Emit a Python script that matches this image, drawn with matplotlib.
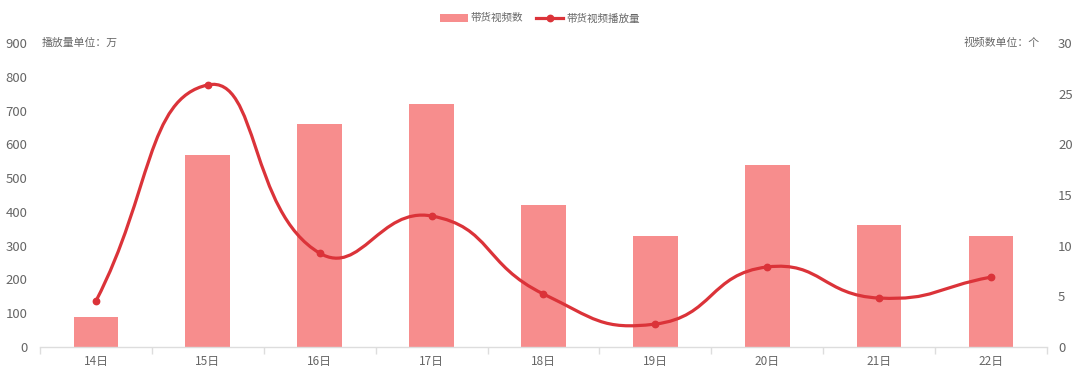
import numpy as np
import matplotlib.pyplot as plt
from matplotlib.path import Path
from matplotlib.patches import PathPatch
from matplotlib.lines import Line2D
from matplotlib.patches import Patch

plt.rcParams['font.family'] = ['Noto Sans CJK SC', 'DejaVu Sans']

# 数据
days = ['14日', '15日', '16日', '17日', '18日', '19日', '20日', '21日', '22日']
video_count = [3, 19, 22, 24, 14, 11, 18, 12, 11]          # 带货视频数（个）
play_volume = [136, 776, 278, 388, 157, 68, 237, 145, 207]  # 带货视频播放量（万）

bar_color = '#F78D8D'
line_color = '#DB3339'
text_color = '#666666'

fig = plt.figure(figsize=(10.8, 3.81), dpi=100)
ax = fig.add_axes([0.037, 0.0892, 0.9324, 0.7978])
ax2 = ax.twinx()

x = np.arange(len(days))

# 柱状图（右轴）
ax2.bar(x, video_count, width=0.4, color=bar_color, zorder=1)
ax2.set_ylim(0, 30)
ax2.set_yticks(np.arange(0, 31, 5))

# 平滑折线（左轴），仿 echarts 的 bezier 平滑
ax.set_zorder(ax2.get_zorder() + 1)
ax.patch.set_visible(False)
ax.set_ylim(0, 900)
ax.set_yticks(np.arange(0, 901, 100))
ax.set_xlim(-0.5, len(days) - 0.5)

sx, sy = 111.75, 304 / 900  # 近似像素比例
pts = np.column_stack([x, play_volume]).astype(float)
smooth = 0.5
verts = [tuple(pts[0])]
codes = [Path.MOVETO]
cps = []
for i in range(len(pts)):
    prev = pts[i - 1] if i > 0 else pts[i]
    nxt = pts[i + 1] if i < len(pts) - 1 else pts[i]
    cur = pts[i]
    vec = nxt - prev
    d0 = np.hypot((cur[0] - prev[0]) * sx, (cur[1] - prev[1]) * sy)
    d1 = np.hypot((nxt[0] - cur[0]) * sx, (nxt[1] - cur[1]) * sy)
    s = d0 + d1
    if s > 0:
        d0, d1 = d0 / s, d1 / s
    cps.append((cur - vec * smooth * d0, cur + vec * smooth * d1))
for i in range(len(pts) - 1):
    verts += [tuple(cps[i][1]), tuple(cps[i + 1][0]), tuple(pts[i + 1])]
    codes += [Path.CURVE4] * 3
ax.add_patch(PathPatch(Path(verts, codes), facecolor='none', edgecolor=line_color,
                       lw=2.3, zorder=3, capstyle='round'))
ax.plot(x, play_volume, 'o', color=line_color, ms=4.6, zorder=4)

# 轴样式
for a in (ax, ax2):
    for sp in a.spines.values():
        sp.set_visible(False)
ax.spines['bottom'].set_visible(True)
ax.spines['bottom'].set_color('#DDDDDD')
ax.spines['bottom'].set_linewidth(1)

ax.set_xticks(np.arange(-0.5, len(days), 1))
ax.set_xticklabels([])
ax.set_xticks(x, minor=True)
ax.set_xticklabels(days, minor=True)
ax.tick_params(axis='x', which='major', length=5, color='#DDDDDD', width=1)
ax.tick_params(axis='x', which='minor', length=0, labelsize=8.5,
               labelcolor=text_color, pad=6)
ax.tick_params(axis='y', length=0, labelsize=9.5, labelcolor=text_color, pad=9)
ax2.tick_params(axis='y', length=0, labelsize=9.5, labelcolor=text_color, pad=8)

# 单位说明
fig.text(0.039, 0.887, '播放量单位：万', fontsize=7.8, color=text_color,
         ha='left', va='center')
fig.text(0.963, 0.887, '视频数单位：个', fontsize=7.8, color=text_color,
         ha='right', va='center')

# 图例
handles = [Patch(facecolor=bar_color, edgecolor='none'),
           Line2D([0], [0], color=line_color, lw=2.3, marker='o', ms=4.6)]
fig.legend(handles, ['带货视频数', '带货视频播放量'], loc='center',
           bbox_to_anchor=(0.5, 0.952), ncol=2, frameon=False, fontsize=7.6,
           labelcolor=text_color, handlelength=2.6, handleheight=0.8,
           columnspacing=1.2, handletextpad=0.3)

fig.savefig('out.png', dpi=100)
